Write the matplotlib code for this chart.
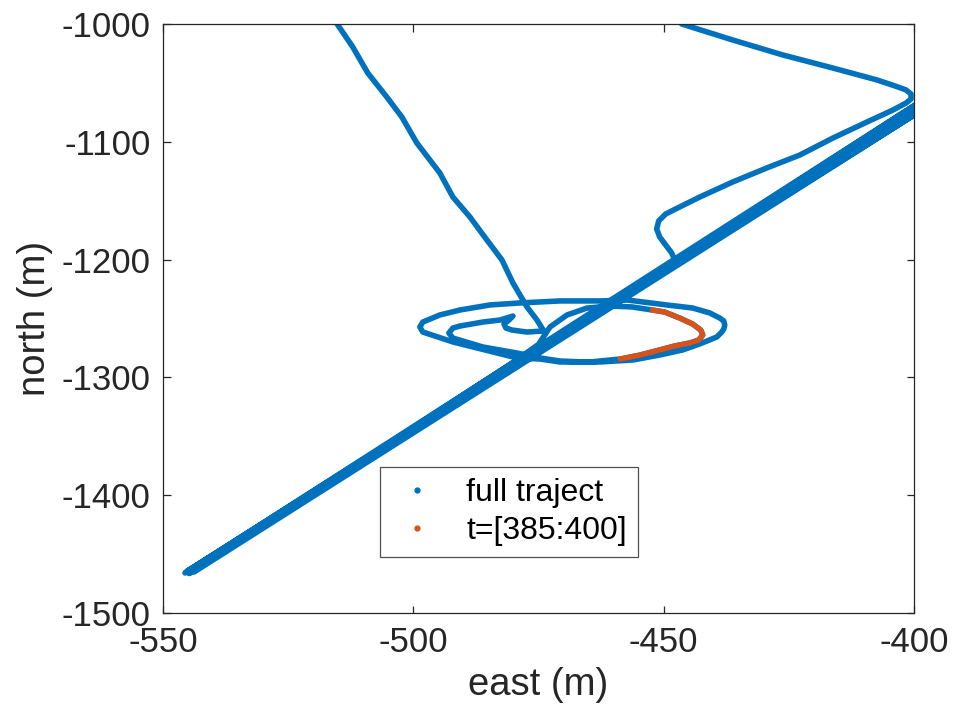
import numpy as np
import matplotlib
matplotlib.use("Agg")
import matplotlib.pyplot as plt
from matplotlib.lines import Line2D

plt.rcParams['font.family'] = ['Liberation Sans', 'DejaVu Sans']
plt.rcParams['axes.unicode_minus'] = False

# trajectory, split into pieces (east, north in m)
# entry from the top right, turn, S-bend into the diagonal band
entry_e = [-446.4, -436.2, -426.2, -416.2, -407.4, -403.8, -401.6, -400.6, -400.6, -401.6,
           -404.2, -409.4, -416.2, -422.8, -429.4, -436.2, -442.8, -446.8, -449.6, -451.0,
           -451.4, -450.8, -449.6, -448.4, -447.6]
entry_n = [-1000.0, -1013.6, -1026.3, -1037.4, -1047.5, -1052.6, -1056.0, -1059.4, -1063.7, -1067.1,
           -1073.0, -1083.2, -1096.8, -1111.2, -1122.2, -1134.1, -1146.9, -1155.3, -1161.3, -1167.2,
           -1174.0, -1180.8, -1187.6, -1194.4, -1202.0]

# back-and-forth passes along the diagonal (turn points)
band_e = [-545.6, -399.5, -543.8, -399.5, -545.2, -399.5, -544.8, -480.0, -475.0]
band_n = [-1466.0, -1068.0, -1465.2, -1076.0, -1464.5, -1072.0, -1466.5, -1287.0, -1272.0]

# inner arc leaving the band, up to the start of t=[385:400]
arc_e = [-472.7, -469.3, -465.3, -460.7, -456.3, -452.3]
arc_n = [-1257.2, -1247.0, -1241.1, -1239.4, -1240.2, -1242.8]

# t = [385:400]
sel_e = [-452.3, -449.8, -446.8, -444.2, -442.6, -442.2, -443.0, -444.8, -447.8, -450.8,
         -454.7, -458.7]
sel_n = [-1242.8, -1244.5, -1249.6, -1254.7, -1259.8, -1264.0, -1268.3, -1270.8, -1273.3, -1276.7,
         -1281.0, -1284.4]

# outer loop, inner loop and the hook
loop_e = [-464.7, -470.7, -474.7, -479.3, -484.1, -492.1, -498.1, -498.7, -498.1, -494.7,
          -490.7, -484.7, -478.7, -470.7, -462.7, -457.3, -449.4, -444.2, -440.8, -438.8,
          -438.0, -437.8, -438.0, -438.4, -439.4, -442.8, -446.2, -450.8, -456.1, -462.7,
          -466.1, -470.7, -474.7, -479.3, -486.1, -492.1, -492.9, -492.1, -490.7, -486.1,
          -482.7, -480.7, -480.1, -480.9, -481.9, -481.5, -480.3, -477.3, -474.1]
loop_n = [-1286.9, -1286.9, -1284.4, -1283.5, -1278.4, -1269.9, -1261.5, -1257.2, -1253.0, -1247.0,
          -1242.8, -1238.5, -1236.8, -1235.1, -1235.1, -1234.3, -1238.5, -1241.1, -1245.3, -1249.6,
          -1252.1, -1255.5, -1258.9, -1261.5, -1265.7, -1271.6, -1276.7, -1281.0, -1285.2, -1286.9,
          -1286.9, -1286.1, -1283.5, -1279.3, -1274.2, -1266.6, -1262.3, -1258.1, -1256.4, -1253.0,
          -1251.3, -1248.7, -1247.9, -1251.3, -1254.7, -1258.1, -1259.8, -1261.5, -1260.6]

# leg going up to the top edge
exit_e = [-473.7, -475.3, -477.3, -480.1, -482.3, -485.3, -488.7, -492.1, -494.7, -499.3,
          -502.3, -505.3, -509.1, -512.1, -515.3]
exit_n = [-1262.3, -1251.3, -1240.2, -1219.9, -1200.3, -1183.4, -1163.8, -1146.9, -1126.5, -1101.0,
          -1078.9, -1062.0, -1041.6, -1019.5, -999.5]

full_e = np.concatenate([entry_e, band_e, arc_e, sel_e, loop_e, exit_e])
full_n = np.concatenate([entry_n, band_n, arc_n, sel_n, loop_n, exit_n])

blue = '#0072BD'
orange = '#D95319'
dark = '#262626'

fig = plt.figure(figsize=(9.57, 7.27), dpi=100)
ax = fig.add_axes([0.1703, 0.1568, 0.7848, 0.8102])

ax.plot(full_e, full_n, color=blue, lw=4.0, solid_capstyle='round', solid_joinstyle='round')
ax.plot(sel_e, sel_n, color=orange, lw=3.8, solid_capstyle='round', solid_joinstyle='round')

ax.set_xlim(-550, -400)
ax.set_ylim(-1500, -1000)
ax.set_xticks(np.arange(-550, -399, 50))
ax.set_yticks(np.arange(-1500, -999, 100))
ax.tick_params(direction='in', length=5.4, width=0.9, labelsize=25, colors=dark,
               top=True, right=True, pad=9)
for s in ax.spines.values():
    s.set_color(dark)
    s.set_linewidth(0.9)

ax.set_xlabel('east (m)', fontsize=27.5, color=dark, labelpad=6)
ax.set_ylabel('north (m)', fontsize=27.5, color=dark, labelpad=6)

handles = [Line2D([], [], color=blue, marker='.', ls='none', markersize=7),
           Line2D([], [], color=orange, marker='.', ls='none', markersize=7)]
leg = ax.legend(handles, ['full traject', 't=[385:400]'], loc='lower left',
                bbox_to_anchor=(0.289, 0.095), borderaxespad=0, fontsize=23,
                frameon=True, fancybox=False, edgecolor=dark, handlelength=1.6,
                handletextpad=0.75, borderpad=0.35, labelspacing=0.25)
leg.get_frame().set_linewidth(0.9)

fig.savefig('out.png', dpi=100)
